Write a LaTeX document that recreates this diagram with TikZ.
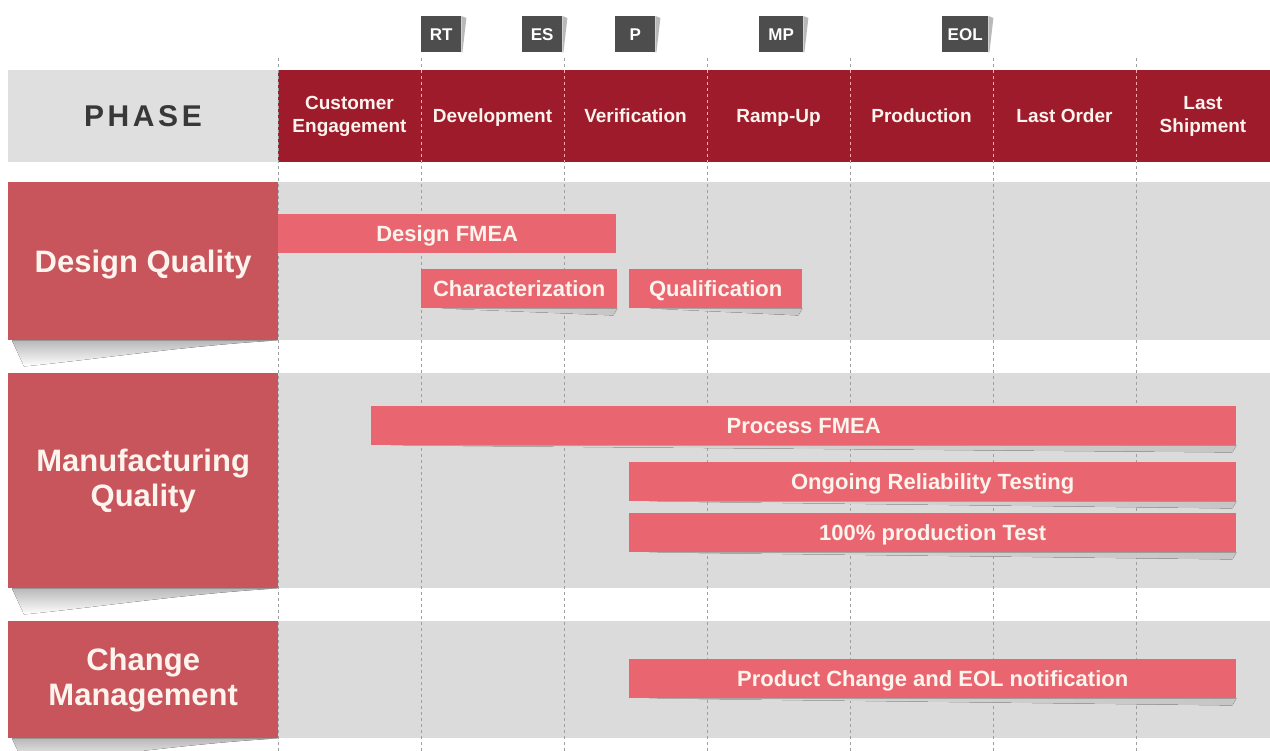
\documentclass[tikz,border=0pt]{standalone}
\usepackage{fontspec}
\setmainfont{Liberation Sans}
\definecolor{hdred}{RGB}{158,27,44}
\definecolor{labred}{RGB}{200,84,92}
\definecolor{barred}{RGB}{233,102,112}
\definecolor{rowgray}{RGB}{219,219,219}
\definecolor{phgray}{RGB}{223,223,223}
\definecolor{msgray}{RGB}{77,77,77}
\definecolor{creamtxt}{RGB}{253,244,238}
\tikzset{
  phasetxt/.style={text=creamtxt, font=\fontsize{19}{23}\selectfont\bfseries, align=center},
  phaseone/.style={phasetxt, text height=14pt, text depth=0pt},
  grouplab/.style={fill=labred, text=creamtxt, font=\fontsize{31}{35}\selectfont\bfseries, align=center, minimum width=270pt, inner sep=0pt, anchor=north west},
  qbar/.style={fill=barred, text=creamtxt, font=\fontsize{22}{26}\selectfont\bfseries, inner sep=0pt, anchor=north west, minimum height=39pt, text height=16pt, text depth=0pt},
  mstone/.style={fill=msgray, text=white, font=\fontsize{17}{20}\selectfont\bfseries, inner sep=0pt, anchor=north west, minimum height=36pt},
  sep/.style={gray!75, dashed, line width=0.6pt}
}
\begin{document}
\begin{tikzpicture}[x=1pt,y=-1pt]
\useasboundingbox (0,0) rectangle (1270,751);
\fill[white] (0,0) rectangle (1270,751);
\fill[phgray] (8,70) rectangle (278,162);
\fill[hdred] (278,70) rectangle (1270,162);
\fill[rowgray] (278,182) rectangle (1270,340);
\fill[rowgray] (278,373) rectangle (1270,588);
\fill[rowgray] (278,621) rectangle (1270,738);
\foreach \x in {278,421,564,707,850,993,1136}
  \draw[sep] (\x,58) -- (\x,751);
\foreach \x in {421,564,707,850,993,1136}
  \draw[sep, red!35] (\x,70) -- (\x,162);

\node[mstone, minimum width=40pt] (rt) at (421,16) {RT};
\node[mstone, minimum width=40pt] (es) at (522,16) {ES};
\node[mstone, minimum width=40pt] (p) at (615,16) {P};
\node[mstone, minimum width=44pt] (mp) at (759,16) {MP};
\node[mstone, minimum width=46pt] (eol) at (942,16) {EOL};
\foreach \m in {rt,es,p,mp,eol}
  \fill[gray!55] (\m.north east) -- ++(5pt,-2pt) -- ([xshift=1pt]\m.south east) -- (\m.south east) -- cycle;

\node[text=black!78, font=\fontsize{30}{34}\selectfont\bfseries\addfontfeature{LetterSpace=12}] (phase) at (143,116) {PHASE};
\node[phasetxt] (ce) at (349.5,116) {Customer\\Engagement};
\node[phaseone] (dev) at (492.5,116) {Development};
\node[phaseone] (ver) at (635.5,116) {Verification};
\node[phaseone] (ramp) at (778.5,116) {Ramp-Up};
\node[phaseone] (prod) at (921.5,116) {Production};
\node[phaseone] (lo) at (1064.5,116) {Last Order};
\node[phasetxt] (ls) at (1203,116) {Last\\Shipment};

\node[grouplab, minimum height=158pt, text height=22pt, text depth=0pt] (dq) at (8,182) {Design Quality};
\node[grouplab, minimum height=215pt] (mq) at (8,373) {Manufacturing\\Quality};
\node[grouplab, minimum height=117pt] (cm) at (8,621) {Change\\Management};
\foreach \g in {dq,mq,cm}
  \fill[top color=gray!55, bottom color=white] ([xshift=4pt]\g.south west) -- (\g.south east)
    .. controls ([xshift=-90pt,yshift=-5pt]\g.south east) and ([xshift=80pt,yshift=-20pt]\g.south west)
    .. ([xshift=16pt,yshift=-26pt]\g.south west) -- cycle;

\node[qbar, minimum width=338pt] (dfmea) at (278,214) {Design FMEA};
\node[qbar, minimum width=196pt] (char) at (421,269) {Characterization};
\node[qbar, minimum width=173pt] (qual) at (629,269) {Qualification};
\node[qbar, minimum width=865pt] (pfmea) at (371,406) {Process FMEA};
\node[qbar, minimum width=607pt] (ort) at (629,462) {Ongoing Reliability Testing};
\node[qbar, minimum width=607pt] (ptest) at (629,513) {100\% production Test};
\node[qbar, minimum width=607pt] (pcn) at (629,659) {Product Change and EOL notification};
\foreach \b in {char,qual,pfmea,ort,ptest,pcn}
  \fill[left color=rowgray, right color=gray!45] ([xshift=20pt]\b.south west) -- (\b.south east)
    -- ([xshift=-4pt,yshift=-7pt]\b.south east) -- cycle;
\end{tikzpicture}
\end{document}
